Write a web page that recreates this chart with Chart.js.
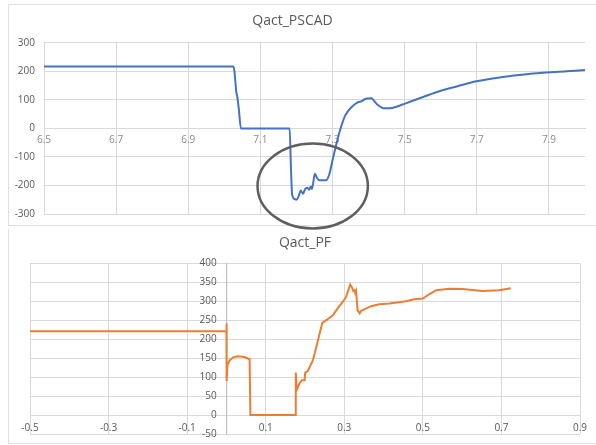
<!DOCTYPE html>
<html><head><meta charset="utf-8">
<script src="https://cdn.jsdelivr.net/npm/chart.js@4.4.1/dist/chart.umd.min.js"></script>
<style>
html,body{margin:0;padding:0;background:#fff;width:596px;height:445px;overflow:hidden;position:relative;}
.frame{position:absolute;border:1px solid #e0e0e0;box-sizing:border-box;}
#f1{left:8px;top:4px;width:600px;height:222px;}
#f2{left:8px;top:229px;width:600px;height:215px;border-top:none;}
canvas{position:absolute;left:0;}
#c1{top:0;}
#c2{top:230px;}
</style></head>
<body>
<div class="frame" id="f1"></div>
<div class="frame" id="f2"></div>
<canvas id="c1" width="596" height="230" style="width:596px;height:230px"></canvas>
<canvas id="c2" width="596" height="215" style="width:596px;height:215px"></canvas>
<script>
// ---- Data: Qact_PSCAD ----
const pscadTitle = 'Qact_PSCAD';
const pscadT = [6.5, 7.025, 7.028, 7.033, 7.036, 7.040, 7.046, 7.181, 7.185, 7.188, 7.194, 7.200, 7.206, 7.212, 7.218, 7.224, 7.230, 7.235, 7.240, 7.243, 7.251, 7.257, 7.263, 7.281, 7.290, 7.302, 7.320, 7.335, 7.353, 7.371, 7.380, 7.392, 7.408, 7.416, 7.424, 7.442, 7.459, 7.479, 7.501, 7.551, 7.598, 7.644, 7.699, 7.783, 7.875, 7.949, 8.0];
const pscadQ = [217, 217, 200, 130, 110, 70, 0, 0, -150, -232, -247, -250, -238, -218, -229, -213, -208, -215, -204, -212, -159, -174, -182, -182, -165, -100, -10, 45, 75, 92, 95, 104, 106, 95, 84, 71, 71, 77, 87, 110, 131, 147, 165, 182, 194, 200, 205];
const pscadXTicks = [6.5, 6.7, 6.9, 7.1, 7.3, 7.5, 7.7, 7.9];
const pscadYTicks = [-300, -200, -100, 0, 100, 200, 300];

// ---- Data: Qact_PF ----
const pfTitle = 'Qact_PF';
const pfT = [-0.5, 0, 0.0003, 0.0006, 0.0025, 0.0083, 0.017, 0.029, 0.046, 0.059, 0.061, 0.176, 0.1765, 0.179, 0.186, 0.192, 0.199, 0.2005, 0.207, 0.220, 0.229, 0.244, 0.254, 0.271, 0.283, 0.296, 0.305, 0.315, 0.320, 0.323, 0.326, 0.328, 0.330, 0.334, 0.339, 0.343, 0.356, 0.368, 0.389, 0.415, 0.457, 0.478, 0.500, 0.517, 0.534, 0.567, 0.601, 0.652, 0.694, 0.724];
const pfQ = [221, 221, 241, 89, 131, 144, 152, 155, 153, 147, 0, 0, 112, 67, 83, 92, 92, 112, 116, 144, 180, 243, 250, 263, 281, 298, 312, 344, 336, 327, 329, 322, 327, 276, 268, 275, 281, 287, 292, 294, 300, 305, 307, 319, 329, 333, 332, 327, 329, 334];
const pfXTicks = [-0.5, -0.3, -0.1, 0.1, 0.3, 0.5, 0.7, 0.9];
const pfYTicks = [-50, 0, 50, 100, 150, 200, 250, 300, 350, 400];

// ---- Styling ----
const FONT = "'Open Sans', 'Liberation Sans', sans-serif";
const TXT = '#595959';
const GRID = '#d9d9d9';
Chart.defaults.font.family = FONT;
Chart.defaults.color = TXT;

function pts(xs, ys) { return xs.map((x, i) => ({x: x, y: ys[i]})); }
function fixedTicks(list) { return s => { s.ticks = list.map(v => ({value: v})); }; }
function fmt(v) { return (Math.round(v * 10) / 10).toString(); }

// Annotation ring (in data units of the PSCAD chart)
const ringPlugin = {
  id: 'ring',
  afterDatasetsDraw(chart) {
    const o = chart.options.plugins.ring;
    if (!o) return;
    const {ctx, scales: {x, y}} = chart;
    const cx = x.getPixelForValue(o.cx), cy = y.getPixelForValue(o.cy);
    const rx = Math.abs(x.getPixelForValue(o.cx + o.rx) - cx);
    const ry = Math.abs(y.getPixelForValue(o.cy + o.ry) - cy);
    ctx.save();
    ctx.beginPath();
    ctx.ellipse(cx, cy, rx, ry, 0, 0, Math.PI * 2);
    ctx.strokeStyle = '#5f5f5f';
    ctx.lineWidth = 2.5;
    ctx.stroke();
    ctx.restore();
  }
};

new Chart(document.getElementById('c1'), {
  type: 'line',
  data: { datasets: [{
    data: pts(pscadT, pscadQ),
    borderColor: '#4472C4', borderWidth: 2, pointRadius: 0,
    cubicInterpolationMode: 'monotone', fill: false
  }]},
  options: {
    responsive: false, animation: false, parsing: true,
    layout: { padding: { left: 0, right: 11, top: 0, bottom: 16 } },
    plugins: {
      legend: { display: false }, tooltip: { enabled: false },
      title: { display: true, text: pscadTitle, color: TXT, font: { size: 14, weight: 'normal' }, padding: { top: 13, bottom: 13 } },
      ring: { cx: 7.245, cy: -202, rx: 0.153, ry: 149 }
    },
    scales: {
      x: {
        type: 'linear', position: { y: 0 }, min: 6.5, max: 8.0,
        afterBuildTicks: fixedTicks(pscadXTicks),
        ticks: { callback: v => fmt(v), font: { size: 10 }, color: '#8a8a8a', padding: 6, maxRotation: 0, autoSkip: false },
        grid: { color: GRID, drawTicks: false },
        border: { color: GRID }
      },
      y: {
        type: 'linear', position: 'left', min: -300, max: 300,
        afterBuildTicks: fixedTicks(pscadYTicks),
        afterFit: s => { s.width = 44; },
        ticks: { font: { size: 10 }, color: TXT, padding: 9 },
        grid: { color: GRID, drawTicks: false },
        border: { display: false }
      }
    }
  },
  plugins: [ringPlugin]
});

new Chart(document.getElementById('c2'), {
  type: 'line',
  data: { datasets: [{
    data: pts(pfT, pfQ),
    borderColor: '#ED7D31', borderWidth: 2, pointRadius: 0, tension: 0, fill: false, yAxisID: 'y'
  }]},
  options: {
    responsive: false, animation: false,
    layout: { padding: { left: 30, right: 16, top: 0, bottom: 11 } },
    plugins: {
      legend: { display: false }, tooltip: { enabled: false },
      title: { display: true, text: pfTitle, color: TXT, font: { size: 14, weight: 'normal' }, padding: { top: 5, bottom: 11.5 } }
    },
    scales: {
      x: {
        type: 'linear', position: { y: 0 }, min: -0.5, max: 0.9,
        afterBuildTicks: fixedTicks(pfXTicks),
        ticks: { callback: v => fmt(v), font: { size: 10 }, color: TXT, padding: 7, maxRotation: 0, autoSkip: false },
        grid: { color: GRID, drawTicks: false },
        border: { color: GRID }
      },
      y: {
        type: 'linear', position: { x: 0 }, min: -50, max: 400,
        afterBuildTicks: fixedTicks(pfYTicks),
        ticks: { display: false },
        grid: { color: GRID, drawTicks: false },
        border: { color: '#bfbfbf', width: 1.2 }
      },
      yl: {
        type: 'linear', position: { x: -0.025 }, min: -50, max: 400,
        afterBuildTicks: fixedTicks(pfYTicks),
        ticks: { font: { size: 10 }, color: TXT },
        grid: { display: false, drawTicks: false },
        border: { display: false }
      }
    }
  }
});
</script>
</body></html>
